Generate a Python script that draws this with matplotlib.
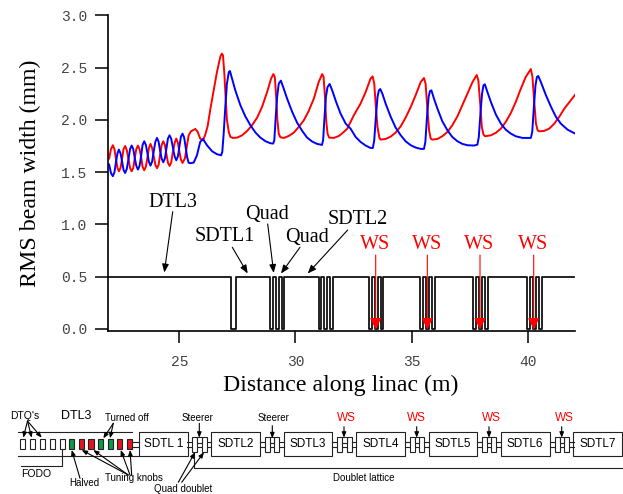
import matplotlib
matplotlib.use('Agg')
import matplotlib.pyplot as plt
from matplotlib.patches import Rectangle

W, H = 623, 494

red_x = [21.98,22.06,22.14,22.21,22.27,22.34,22.40,22.47,22.54,22.60,22.67,22.74,22.81,22.88,22.95,23.02,23.08,23.15,23.22,23.29,23.36,23.42,23.49,23.56,23.63,23.69,23.76,23.83,23.90,23.97,24.04,24.11,24.17,24.24,24.31,24.38,24.44,24.51,24.58,24.65,24.72,24.80,24.87,24.94,25.00,25.07,25.14,25.24,25.32,25.40,25.50,25.69,25.79,25.90,26.02,26.12,26.22,26.34,26.48,26.62,26.77,26.83,26.88,26.94,27.00,27.05,27.13,27.20,27.31,27.49,27.70,27.92,28.13,28.35,28.56,28.78,28.95,29.05,29.11,29.17,29.22,29.28,29.35,29.50,29.71,29.93,30.14,30.36,30.57,30.79,31.00,31.15,31.21,31.27,31.32,31.38,31.45,31.65,31.87,32.08,32.23,32.51,32.80,33.02,33.23,33.32,33.39,33.46,33.53,33.61,33.66,33.88,34.10,34.31,34.53,34.74,34.96,35.17,35.39,35.53,35.60,35.68,35.75,35.82,35.89,36.11,36.32,36.54,36.75,36.97,37.18,37.40,37.62,37.80,37.87,37.95,38.02,38.09,38.16,38.41,38.62,38.84,39.05,39.27,39.48,39.70,39.91,40.13,40.20,40.27,40.35,40.42,40.49,40.70,40.92,41.14,41.35,41.57,41.85,42.04]
red_y = [1.63,1.72,1.757,1.72,1.63,1.54,1.508,1.54,1.63,1.72,1.75,1.71,1.63,1.54,1.508,1.54,1.63,1.72,1.754,1.72,1.64,1.55,1.518,1.55,1.64,1.73,1.77,1.73,1.65,1.57,1.537,1.57,1.66,1.76,1.795,1.76,1.68,1.59,1.559,1.59,1.69,1.78,1.821,1.78,1.70,1.62,1.588,1.63,1.74,1.85,1.89,1.913,1.885,1.82,1.805,1.86,1.94,2.107,2.282,2.457,2.607,2.633,2.617,2.44,2.187,2.0,1.884,1.836,1.827,1.83,1.852,1.894,1.948,2.021,2.123,2.266,2.394,2.438,2.41,2.219,2.0,1.868,1.833,1.827,1.846,1.878,1.932,1.996,2.085,2.203,2.362,2.438,2.41,2.219,2.0,1.868,1.83,1.827,1.846,1.884,1.916,2.043,2.155,2.266,2.394,2.416,2.346,2.123,1.932,1.83,1.811,1.817,1.84,1.878,1.938,2.021,2.123,2.235,2.362,2.4,2.346,2.091,1.9,1.82,1.811,1.817,1.843,1.884,1.948,2.034,2.139,2.25,2.362,2.429,2.378,2.155,1.932,1.859,1.843,1.852,1.875,1.916,1.98,2.066,2.171,2.298,2.41,2.486,2.41,2.187,1.964,1.9,1.89,1.894,1.916,1.964,2.028,2.107,2.187,2.241]

blue_x = [21.98,22.06,22.14,22.21,22.27,22.34,22.40,22.47,22.54,22.60,22.67,22.74,22.81,22.88,22.95,23.02,23.08,23.15,23.22,23.29,23.36,23.42,23.49,23.56,23.63,23.69,23.76,23.83,23.90,23.97,24.04,24.11,24.17,24.24,24.31,24.38,24.44,24.51,24.58,24.65,24.72,24.80,24.87,24.94,25.00,25.07,25.14,25.21,25.27,25.34,25.40,25.47,25.62,25.76,25.90,26.02,26.19,26.41,26.62,26.80,26.85,26.91,26.98,27.05,27.13,27.18,27.27,27.41,27.63,27.84,28.06,28.28,28.49,28.71,28.92,29.04,29.09,29.15,29.21,29.28,29.37,29.47,29.64,29.86,30.07,30.29,30.50,30.72,30.93,31.14,31.19,31.25,31.31,31.38,31.47,31.58,31.75,31.94,32.16,32.37,32.59,32.80,33.02,33.23,33.33,33.39,33.46,33.53,33.59,33.65,33.74,33.88,34.10,34.31,34.53,34.74,34.96,35.17,35.39,35.53,35.59,35.66,35.73,35.79,35.85,35.96,36.11,36.32,36.54,36.75,36.97,37.18,37.40,37.69,37.83,37.89,37.96,38.03,38.09,38.15,38.26,38.41,38.62,38.84,39.05,39.27,39.48,39.77,40.13,40.19,40.26,40.33,40.39,40.45,40.56,40.78,41.00,41.21,41.42,41.71,42.04]
blue_y = [1.572,1.49,1.461,1.50,1.59,1.68,1.715,1.68,1.60,1.52,1.492,1.53,1.62,1.72,1.754,1.72,1.64,1.56,1.524,1.56,1.66,1.76,1.795,1.76,1.68,1.60,1.562,1.60,1.70,1.79,1.827,1.79,1.71,1.63,1.594,1.63,1.72,1.82,1.852,1.82,1.74,1.65,1.613,1.65,1.74,1.84,1.868,1.83,1.74,1.64,1.59,1.585,1.591,1.661,1.789,1.817,1.757,1.70,1.671,1.661,1.693,1.868,2.123,2.346,2.457,2.467,2.394,2.282,2.139,2.034,1.948,1.878,1.83,1.795,1.776,1.773,1.805,2.028,2.219,2.346,2.375,2.314,2.203,2.075,1.973,1.894,1.83,1.792,1.77,1.76,1.805,2.028,2.219,2.314,2.343,2.282,2.171,2.06,1.964,1.916,1.836,1.789,1.754,1.731,1.731,1.805,2.028,2.219,2.282,2.295,2.25,2.155,2.028,1.926,1.852,1.795,1.757,1.735,1.722,1.722,1.789,2.028,2.219,2.276,2.282,2.203,2.107,1.986,1.9,1.836,1.795,1.77,1.757,1.754,1.763,1.836,2.059,2.25,2.33,2.34,2.266,2.171,2.053,1.964,1.906,1.868,1.843,1.827,1.827,1.884,2.123,2.33,2.41,2.419,2.362,2.235,2.123,2.028,1.964,1.906,1.868]

# element edges of the lattice profile, high/low alternate
profile_x = [21.99,27.23,27.43,28.92,29.04,29.16,29.28,29.40,29.52,31.00,31.12,31.24,31.36,31.48,31.60,
             33.17,33.29,33.42,33.55,33.67,33.78,35.36,35.48,35.61,35.74,35.86,35.99,
             37.63,37.76,37.89,38.02,38.15,38.28,39.95,40.08,40.21,40.34,40.47,40.60,41.99]
profile_y = [0.5,0.0]*19 + [0.5,0.5]

yticks = [0.0,0.5,1.0,1.5,2.0,2.5,3.0]
xticks = [25,30,35,40]

# schematic along the bottom, in pixels of the picture
dtl_x = [22.7,32.7,42.7,52.7,62.3,71.7,81.5,91.0,100.8,110.2,119.8,129.5]
dtl_c = ['white']*5 + ['#0b9a45','#e3141c','#e3141c','#0b9a45','#0b9a45','#e3141c','#e3141c']
sdtl_left = [139.0,211.3,283.7,356.3,428.7,501.0,573.3]
sdtl_names = ['SDTL 1','SDTL2','SDTL3','SDTL4','SDTL5','SDTL6','SDTL7']
doublet_left = [192.3,265.0,337.3,409.7,482.0,554.5]

fig = plt.figure(figsize=(W/100,H/100),dpi=100)
ax = fig.add_axes([107.5/W,1-331/H,(575-107.5)/W,(331-15.3)/H])
px = fig.add_axes([0,0,1,1])
px.set_xlim(0,W)
px.set_ylim(H,0)
px.axis('off')
px.patch.set_alpha(0)

ax.plot(red_x,red_y,color='#ff0000',lw=1.4)
ax.plot(blue_x,blue_y,color='#0000ff',lw=1.4)
ax.plot(profile_x,profile_y,color='#111111',lw=1.3,drawstyle='steps-post')

ax.set_xlim(21.91,42.03)
ax.set_ylim(-0.02,3.0)
ax.set_xticks(xticks)
ax.set_yticks(yticks)
ax.set_yticklabels(['%.1f'%v for v in yticks])
ax.spines['top'].set_visible(False)
ax.spines['right'].set_visible(False)
ax.spines['left'].set_linewidth(1.2)
ax.spines['bottom'].set_linewidth(1.2)
ax.tick_params(axis='y',length=9.4,width=1.1,pad=5,labelsize=10.5,labelcolor='#444444')
ax.tick_params(axis='x',length=8.6,width=1.1,pad=9,labelsize=10.5,labelcolor='#444444')
for t in ax.get_xticklabels()+ax.get_yticklabels():
    t.set_family('Liberation Mono')

serif = 'Liberation Serif'
ax.set_xlabel('Distance along linac (m)',family=serif,fontsize=17.2,va='center')
ax.xaxis.set_label_coords(341,385,transform=px.transData)
ax.set_ylabel('RMS beam width (mm)',family=serif,fontsize=17.2,va='center')
ax.yaxis.set_label_coords(30,173,transform=px.transData)

def note(s,x,y,size=7,color='black',family='Liberation Sans'):
    px.text(x,y,s,ha='center',va='center',fontsize=size,color=color,family=family)

def arrow(x0,y0,x1,y1,color='black',lw=0.8,head=5,hw=0.2):
    px.annotate('',xy=(x1,y1),xytext=(x0,y0),
                arrowprops=dict(arrowstyle='-|>,head_length=0.5,head_width=%g'%hw,color=color,lw=lw,
                                mutation_scale=head*2,shrinkA=0,shrinkB=0))

# labels over the profile
note('DTL3',173,202,14.5,family=serif)
arrow(172.7,211.7,164.3,272.5)
note('SDTL1',225,236.5,14.5,family=serif)
arrow(232.3,247.3,247.7,273.5)
note('Quad',266.7,214,14.5,family=serif)
arrow(267.7,224,273.7,273)
note('Quad',306.7,237,14.5,family=serif)
arrow(300,247.3,281,273.5)
note('SDTL2',358,219.5,14.5,family=serif)
arrow(347.7,230,307.7,273.5)
for tx,ax_x in zip([375.3,426.7,479.3,533.3],[375.7,427.3,480,533.7]):
    note('WS',tx,244.5,14.5,color='#ff0000',family=serif)
    arrow(ax_x,255,ax_x,329.5,color='#ff0000',head=7,hw=0.25)

# schematic
px.plot([18.3,131.7],[431.7,431.7],color='#222222',lw=0.8)
px.plot([18.3,139],[456,456],color='#222222',lw=0.8)
for x,c in zip(dtl_x,dtl_c):
    px.add_patch(Rectangle((x-2.6,439),5.2,9.5,fc=c,ec='#222222',lw=0.8,zorder=3))
for y in [441.7,446.7]:
    px.plot([132,139],[y,y],color='#222222',lw=0.8)
for x,name in zip(sdtl_left,sdtl_names):
    px.add_patch(Rectangle((x,431.7),48.5,24.3,fc='white',ec='#222222',lw=0.8))
    note(name,x+24.2,444,8.5)
for x in doublet_left:
    for y in [441.7,446.7]:
        px.plot([x-5,x+19],[y,y],color='#222222',lw=0.8)
    px.add_patch(Rectangle((x,436.7),5,15,fc='white',ec='#222222',lw=0.8,zorder=3))
    px.add_patch(Rectangle((x+9.4,436.7),5,15,fc='white',ec='#222222',lw=0.8,zorder=3))
    px.add_patch(Rectangle((x+5,436.7),4.4,6,fc='white',ec='#222222',lw=0.8,zorder=3))
px.plot([62.3,62.3,20.7],[448.5,465.7,465.7],color='#222222',lw=0.8)
px.plot([194.3,194.3,W],[452,467.7,467.7],color='#222222',lw=0.8)

note("DTQ's",25,416,7.5)
note('DTL3',76,416,9)
note('Turned off',127.3,417.7)
note('Steerer',197.7,418.3)
note('Steerer',273.3,418.3)
note('FODO',36,473.7,7.5)
note('Halved',84,483.3)
note('Tuning knobs',134.3,478.3)
note('Quad doublet',183.3,488.7)
note('Doublet lattice',363.3,478.3,7)
for x in [346.7,416.7,491.7,564.3]:
    note('WS',x,417.7,8.5,color='#ff0000')
for x in [344,416.7,489,561.7]:
    arrow(x,426.7,x,437.7,head=3.2)
arrow(199.3,423.3,199.3,437.7,head=3.2)
arrow(272.3,425.7,272.3,438.3,head=3.2)
for x1 in [23.3,31.7,41.7]:
    arrow(27.5,421,x1,437.7,head=3.2)
arrow(113.3,423.3,103.3,438.3,head=3.2)
arrow(113.3,423.3,110,438.3,head=3.2)
arrow(80,478.3,71.7,450,head=3.2)
arrow(128.3,475,81.7,450,head=3.2)
arrow(128.3,475,93.3,450,head=3.2)
arrow(130,475,120.7,450,head=3.2)
arrow(131.7,475,130,450,head=3.2)
arrow(178.3,482.3,195,452.3,head=3.2)
arrow(181.7,482.3,204,452.3,head=3.2)

fig.savefig('out.png',dpi=100)
